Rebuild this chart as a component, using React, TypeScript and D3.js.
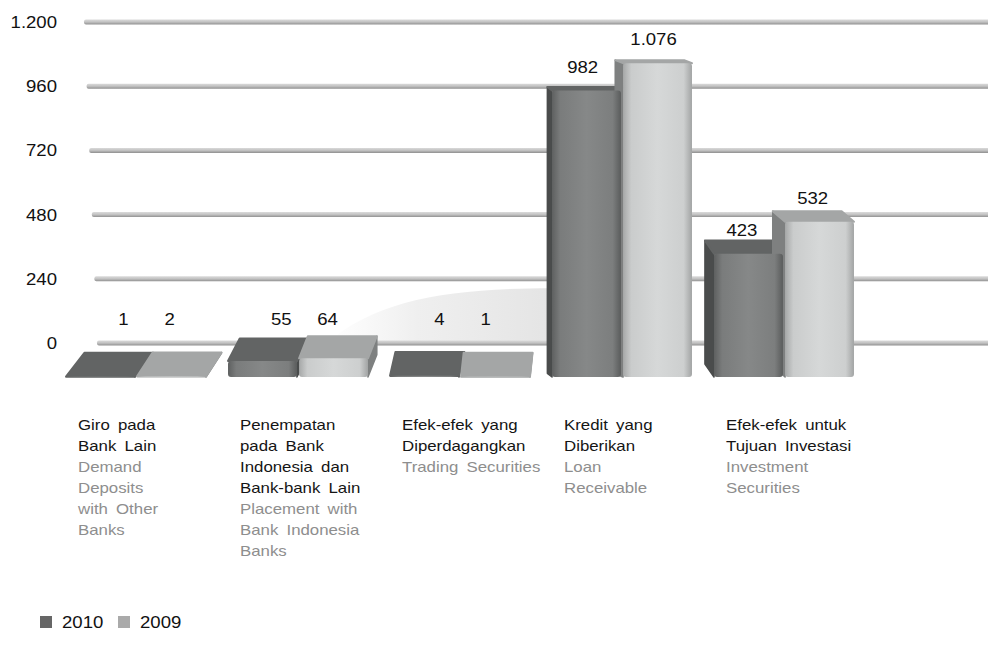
import { scaleBand, scaleLinear, formatLocale } from "d3";

// data
const categories = ["Giro", "Penempatan", "EfekDiperdagangkan", "Kredit", "EfekInvestasi"];
const labelsId = [
    ["Giro pada", "Bank Lain"],
    ["Penempatan", "pada Bank", "Indonesia dan", "Bank-bank Lain"],
    ["Efek-efek yang", "Diperdagangkan"],
    ["Kredit yang", "Diberikan"],
    ["Efek-efek untuk", "Tujuan Investasi"],
];
const labelsEn = [
    ["Demand", "Deposits", "with Other", "Banks"],
    ["Placement with", "Bank Indonesia", "Banks"],
    ["Trading Securities"],
    ["Loan", "Receivable"],
    ["Investment", "Securities"],
];
const series = ["2010", "2009"];
const values2010 = [1, 55, 4, 982, 423];
const values2009 = [2, 64, 1, 1076, 532];
const yTicks = [0, 240, 480, 720, 960, 1200];

const W = 988;
const H = 657;
const FONT = "'Liberation Sans', Arial, Helvetica, sans-serif";
const STRETCH = 1.16; // text in the picture is a little wide

const idFormat = formatLocale({
    decimal: ",",
    thousands: ".",
    grouping: [3],
    currency: ["Rp", ""],
}).format(",d");

const colors: any = {
    "2010": { front: "g2010", top: "#626464", side: "#4a4c4c", legend: "#666666" },
    "2009": { front: "g2009", top: "#a4a6a6", side: "#7e8080", legend: "#aaaaaa" },
};

const x0 = scaleBand<string>()
    .domain(categories)
    .range([55, 865])
    .paddingInner(0.136)
    .paddingOuter(0.068);
const x1 = scaleBand<string>()
    .domain(series)
    .range([0, x0.bandwidth()])
    .paddingInner(0.03);
const yBar = scaleLinear().domain([0, 1200]).range([377, 27]); // bar front plane
const yGrid = scaleLinear().domain([0, 1200]).range([343, 22]); // back wall
const gridLeft = scaleLinear().domain([0, 1200]).range([97, 84]);
// vanishing point drifts with height of the box top
const vpX = scaleLinear().domain([90, 377]).range([470, 560]);

const base = yBar(0);

function Txt({ x, y, children, anchor = "start", size = 15, fill = "#111", ws = 0 }: any) {
    return (
        <text
            transform={`translate(${x},${y}) scale(${STRETCH},1)`}
            textAnchor={anchor}
            fontSize={size}
            fill={fill}
            fontFamily={FONT}
            style={{ wordSpacing: ws }}
        >
            {children}
        </text>
    );
}

function App() {
    const bars: any[] = [];
    categories.forEach((c, i) => {
        series.forEach((s) => {
            const v = s === "2010" ? values2010[i] : values2009[i];
            const x = (x0(c) as number) + (x1(s) as number);
            const w = x1.bandwidth();
            const yTop = yBar(v);
            const t = Math.max(0, (yTop - 60) / 317);
            const depth = 3 + 21 * Math.pow(t, 1.5);
            const cx = x + w / 2;
            const dx = (vpX(yTop) - cx) * 0.04;
            bars.push({ c, i, s, v, x, w, yTop, depth, dx, cx });
        });
    });

    const kx = x0("Kredit") as number;

    return (
        <svg
            width={W}
            height={H}
            style={{ position: "absolute", left: 0, top: 0, background: "#fff" }}
        >
            <defs>
                <linearGradient id="rod" x1="0" y1="0" x2="0" y2="1">
                    <stop offset="0" stopColor="#dadada" />
                    <stop offset="0.5" stopColor="#c2c2c2" />
                    <stop offset="1" stopColor="#909090" />
                </linearGradient>
                <linearGradient id="g2010" x1="0" y1="0" x2="1" y2="0">
                    <stop offset="0" stopColor="#5e6060" />
                    <stop offset="0.12" stopColor="#7a7c7c" />
                    <stop offset="0.5" stopColor="#868888" />
                    <stop offset="0.88" stopColor="#7c7e7e" />
                    <stop offset="1" stopColor="#5a5c5c" />
                </linearGradient>
                <linearGradient id="g2009" x1="0" y1="0" x2="1" y2="0">
                    <stop offset="0" stopColor="#a6a8a8" />
                    <stop offset="0.12" stopColor="#cacccc" />
                    <stop offset="0.5" stopColor="#d6d8d8" />
                    <stop offset="0.88" stopColor="#cdcfcf" />
                    <stop offset="1" stopColor="#a2a4a4" />
                </linearGradient>
                <linearGradient id="shade" x1="0" y1="0" x2="1" y2="0">
                    <stop offset="0" stopColor="#eeeeee" stopOpacity="0" />
                    <stop offset="0.4" stopColor="#ebebeb" stopOpacity="0.8" />
                    <stop offset="1" stopColor="#e4e4e4" />
                </linearGradient>
            </defs>

            {/* shadow of the tall bars on the back wall */}
            <path
                d={`M${kx},${yGrid(205)} C${kx - 100},${yGrid(205)} ${kx - 175},${yGrid(165)} ${kx - 225},${yGrid(0)} L${kx},${yGrid(0)} Z`}
                fill="url(#shade)"
            />

            {/* grid rods */}
            {yTicks.map((t) => (
                <g key={t}>
                    <rect
                        x={gridLeft(t)}
                        y={yGrid(t) - 2.5}
                        width={W - gridLeft(t) + 5}
                        height={5}
                        rx={2}
                        fill="url(#rod)"
                    />
                    <Txt x={57} y={yGrid(t) + 6} anchor="end" size={16}>
                        {idFormat(t)}
                    </Txt>
                </g>
            ))}

            {/* side and top faces */}
            {bars.map((b) => {
                const col = colors[b.s];
                const sx = b.dx > 0 ? b.x + b.w : b.x;
                const side = `M${sx},${b.yTop} L${sx + b.dx},${b.yTop - b.depth} L${sx + b.dx},${base - b.depth} L${sx},${base} Z`;
                const top = `M${b.x},${b.yTop} L${b.x + b.w},${b.yTop} L${b.x + b.w + b.dx},${b.yTop - b.depth} L${b.x + b.dx},${b.yTop - b.depth} Z`;
                return (
                    <g key={"b" + b.c + b.s}>
                        <path d={side} fill={col.side} stroke={col.side} strokeWidth={1.5} strokeLinejoin="round" />
                        <path d={top} fill={col.top} stroke={col.top} strokeWidth={2} strokeLinejoin="round" />
                    </g>
                );
            })}

            {/* front faces */}
            {bars.map((b) => (
                <rect
                    key={"f" + b.c + b.s}
                    x={b.x}
                    y={b.yTop}
                    width={b.w}
                    height={Math.max(0, base - b.yTop)}
                    rx={Math.min(3, (base - b.yTop) / 2)}
                    fill={`url(#${colors[b.s].front})`}
                />
            ))}

            {/* value labels */}
            {bars.map((b) => {
                const cc = (x0(b.c) as number) + x0.bandwidth() / 2;
                const f = b.v < 100 ? 0.65 : 1;
                const lx = cc + (b.cx - cc) * f + (vpX(b.yTop) - cc) * 0.025;
                const ly = Math.min(b.yTop - 18, 325);
                return (
                    <Txt key={"v" + b.c + b.s} x={lx} y={ly} anchor="middle" size={16}>
                        {idFormat(b.v)}
                    </Txt>
                );
            })}

            {/* category labels */}
            {categories.map((c, i) => {
                const lx = (x0(c) as number) + 12;
                const lines = [
                    ...labelsId[i].map((t) => ({ t, fill: "#151515" })),
                    ...labelsEn[i].map((t) => ({ t, fill: "#8e8e8e" })),
                ];
                return (
                    <g key={"l" + c}>
                        {lines.map((l, j) => (
                            <Txt key={j} x={lx} y={430 + j * 21} size={14.5} fill={l.fill} ws={3}>
                                {l.t}
                            </Txt>
                        ))}
                    </g>
                );
            })}

            {/* legend */}
            {series.map((s, i) => (
                <g key={"lg" + s} transform={`translate(${40 + i * 78},616)`}>
                    <rect width={12} height={12} fill={colors[s].legend} />
                    <Txt x={22} y={12} size={16}>
                        {s}
                    </Txt>
                </g>
            ))}
        </svg>
    );
}

export default App;
